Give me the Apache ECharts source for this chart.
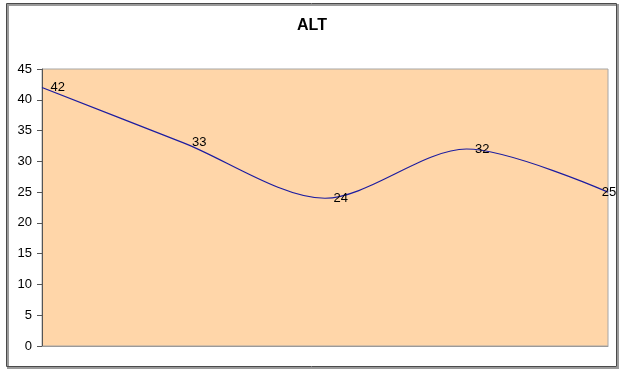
<!DOCTYPE html>
<html>
<head>
<meta charset="utf-8">
<script src="https://cdn.jsdelivr.net/npm/echarts@6/dist/echarts.min.js"></script>
<style>
html,body{margin:0;padding:0;background:#fff;}
#chart{width:624px;height:375px;}
</style>
</head>
<body>
<div id="chart"></div>
<script>
var categories = ['1', '2', '3', '4', '5'];
var altValues = [42, 33, 24, 32, 25];
var yTicks = [0, 5, 10, 15, 20, 25, 30, 35, 40, 45];

var chart = echarts.init(document.getElementById('chart'), null, {renderer: 'canvas'});
var FONT = '"Liberation Sans", Arial, sans-serif';

var seriesData = altValues.map(function (v, i) {
  var d = {value: v};
  if (i === altValues.length - 1) {
    d.label = {position: 'inside', offset: [1, 0]};
  }
  return d;
});

chart.setOption({
  animation: false,
  backgroundColor: '#ffffff',
  title: {
    text: 'ALT',
    left: 'center',
    top: 13,
    textStyle: {fontFamily: FONT, fontSize: 16, fontWeight: 'bold', color: '#000'}
  },
  graphic: [
    {type: 'rect', shape: {x: 8, y: 5, width: 610, height: 363},
     style: {fill: 'none', stroke: '#9a9a9a', lineWidth: 2}, z: -1},
    {type: 'rect', shape: {x: 6.5, y: 3.5, width: 610, height: 363},
     style: {fill: 'none', stroke: '#4a4a4a', lineWidth: 1}, z: 0}
  ],
  grid: {
    left: 42, right: 16, top: 69, bottom: 29,
    show: true,
    backgroundColor: '#FFD6A9',
    borderColor: '#a6a6a6',
    borderWidth: 1
  },
  xAxis: {
    type: 'category',
    data: categories,
    boundaryGap: false,
    axisLine: {show: true, lineStyle: {color: '#9a9a9a', width: 1}},
    axisTick: {show: false},
    axisLabel: {show: false},
    splitLine: {show: false}
  },
  yAxis: {
    type: 'value',
    min: 0, max: 45, interval: 5,
    axisLine: {show: true, lineStyle: {color: '#555', width: 1}},
    axisTick: {show: true, length: 5, inside: false, lineStyle: {color: '#555'}},
    axisLabel: {
      margin: 10, color: '#000', fontFamily: FONT, fontSize: 13,
      formatter: function (v) { return yTicks.indexOf(v) >= 0 ? String(v) : ''; }
    },
    splitLine: {show: false}
  },
  series: [{
    type: 'line',
    data: seriesData,
    smooth: 0.3,
    symbol: 'circle',
    symbolSize: 1,
    showSymbol: true,
    itemStyle: {color: 'rgba(0,0,0,0)'},
    lineStyle: {color: '#1c1ca0', width: 1.2},
    label: {
      show: true, position: 'right', distance: 8,
      color: '#000', fontFamily: FONT, fontSize: 13
    }
  }]
});
</script>
</body>
</html>
